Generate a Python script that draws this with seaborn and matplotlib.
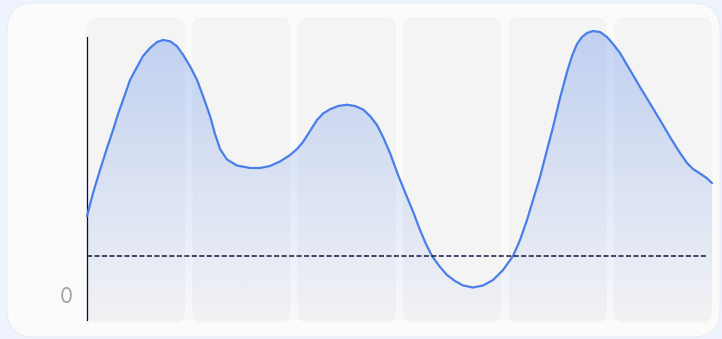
import numpy as np
import pandas as pd
import matplotlib
matplotlib.use("Agg")
import matplotlib.pyplot as plt
import matplotlib.transforms as mtransforms
from matplotlib.patches import FancyBboxPatch
import seaborn as sns

# ---- data ----
t = [0.000, 0.058, 0.125, 0.192, 0.250, 0.298, 0.346, 0.413, 0.480, 0.538,
     0.605, 0.672, 0.730, 0.797, 0.864, 0.922, 0.989, 1.056, 1.114, 1.181,
     1.229, 1.277, 1.344, 1.440, 1.565, 1.661, 1.757, 1.853, 1.949, 2.016,
     2.074, 2.141, 2.208, 2.266, 2.333, 2.410, 2.496, 2.573, 2.650, 2.717,
     2.784, 2.842, 2.909, 2.986, 3.072, 3.139, 3.197, 3.254, 3.312, 3.389,
     3.456, 3.533, 3.610, 3.706, 3.802, 3.898, 3.994, 4.090, 4.157, 4.224,
     4.282, 4.349, 4.416, 4.474, 4.541, 4.608, 4.656, 4.704, 4.752, 4.800,
     4.858, 4.925, 4.992, 5.050, 5.117, 5.213, 5.309, 5.405, 5.501, 5.597,
     5.693, 5.760, 5.818, 5.885, 5.942, 6.000]
values = [31.6, 40.8, 50.0, 58.8, 66.0, 72.4, 78.0, 86.0, 91.2, 95.6,
          98.8, 101.2, 102.0, 101.5, 99.5, 96.1, 91.5, 86.1, 79.6, 71.6,
          64.4, 58.4, 54.2, 51.8, 50.8, 50.8, 51.6, 53.4, 56.0, 58.4,
          61.2, 65.6, 70.0, 72.6, 74.3, 75.6, 76.1, 75.6, 74.2, 71.6,
          68.0, 63.2, 56.8, 48.0, 39.2, 32.4, 26.0, 20.4, 15.6, 11.2,
          8.0, 5.6, 3.8, 3.0, 3.8, 6.0, 10.0, 15.6, 22.0, 30.0,
          38.0, 47.2, 58.0, 67.2, 78.8, 89.2, 95.6, 100.4, 103.2, 104.8,
          105.6, 105.2, 103.2, 100.4, 96.8, 90.0, 83.2, 76.6, 70.0, 63.2,
          56.8, 52.8, 50.4, 48.6, 47.0, 44.8]
reference_value = 15.6
n_bands = 6
ytick_values = [0]
ytick_labels = ["0"]

df = pd.DataFrame({"t": t, "value": values})

W, H = 722, 339
DPI = 100
sns.set_theme(style="white")
plt.rcParams["font.family"] = ["Inter", "DejaVu Sans"]

fig = plt.figure(figsize=(W / DPI, H / DPI), dpi=DPI)
fig.patch.set_facecolor("#eff3fd")

ident = mtransforms.IdentityTransform()

# card
card = FancyBboxPatch((7, 2), 713, 334,
                      boxstyle="round,pad=0,rounding_size=28",
                      transform=ident, facecolor="#fbfbfb",
                      edgecolor="#e9ebf0", linewidth=0.6, zorder=-10)
fig.patches.append(card)

ax_left, ax_right = 87, 712
ax_bottom_px, ax_top_px = 320, 17
ax = fig.add_axes([ax_left / W, (H - ax_bottom_px) / H,
                   (ax_right - ax_left) / W, (ax_bottom_px - ax_top_px) / H])
ax.patch.set_alpha(0)
ax.set_zorder(1)

ymin, ymax = -10, 111.2

# column bands (background)
pitch = (ax_right - ax_left + 7.4) / n_bands
for i in range(n_bands):
    band = FancyBboxPatch((ax_left + i * pitch, H - 323), 98, 306,
                          boxstyle="round,pad=0,rounding_size=11",
                          transform=ident, facecolor="#f4f4f4",
                          edgecolor="none", zorder=0, clip_on=False)
    ax.add_patch(band)

# gradient fill under the curve
poly = ax.fill_between(df["t"], df["value"], ymin, facecolor="none",
                       edgecolor="none", zorder=1)
ny = 256
py = np.linspace(ax_top_px, ax_bottom_px, ny)
alpha = 0.30 - 0.28 * (py - 37) / (320 - 37)
alpha = np.clip(alpha, 0.0, 1.0)
grad = np.zeros((ny, 2, 4))
grad[..., 0] = 74 / 255
grad[..., 1] = 127 / 255
grad[..., 2] = 234 / 255
grad[..., 3] = alpha[:, None]
im = ax.imshow(grad, extent=[0, n_bands, ymin, ymax], aspect="auto",
               origin="upper", zorder=1, interpolation="bilinear")
im.set_clip_path(poly.get_paths()[0], ax.transData)
ax.set_xlim(0, n_bands)
ax.set_ylim(ymin, ymax)

# line
sns.lineplot(data=df, x="t", y="value", ax=ax, color="#4a7eea",
             linewidth=1.6, zorder=3, clip_on=False)
for ln in ax.get_lines():
    ln.set_solid_joinstyle("round")
    ln.set_solid_capstyle("round")

# reference dashed line
ax.axhline(reference_value, xmax=0.99, color="#131a3b", linewidth=1.1,
           dashes=(3.3, 1.6), zorder=4)

# axes styling
for s in ["top", "right", "bottom"]:
    ax.spines[s].set_visible(False)
ax.spines["left"].set_color("#0c0f2e")
ax.spines["left"].set_linewidth(0.9)
ax.spines["left"].set_bounds(ymin, (295 - 37) / 2.5)
ax.set_xticks([])
ax.set_yticks(ytick_values)
ax.set_yticklabels(ytick_labels)
ax.tick_params(axis="y", length=0, pad=10.5, labelsize=15, labelcolor="#a2a5ae")
ax.set_xlabel("")
ax.set_ylabel("")
ax.grid(False)

fig.savefig("out.png", dpi=DPI, facecolor=fig.get_facecolor())
